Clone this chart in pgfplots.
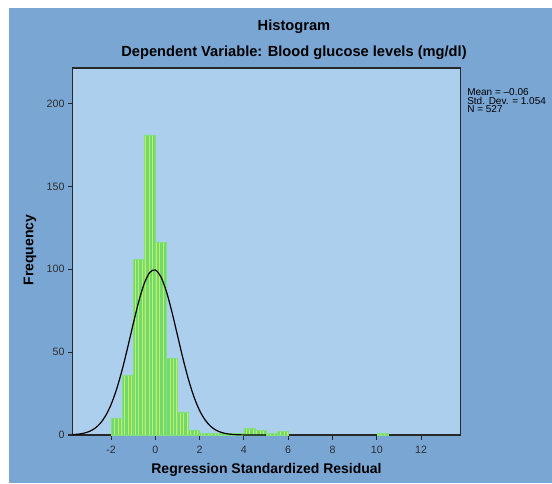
\documentclass[border=0pt]{standalone}
\usepackage{pgfplots}
\pgfplotsset{compat=1.18}
\usepackage{fontspec}
\setmainfont{Liberation Sans}
\usetikzlibrary{patterns.meta}
\definecolor{outerblue}{RGB}{122,166,212}
\definecolor{plotblue}{RGB}{171,207,237}
\definecolor{bargreen}{RGB}{110,218,112}
\definecolor{barstripe}{RGB}{200,238,95}
\definecolor{baredge}{RGB}{130,225,125}
\definecolor{axisgray}{RGB}{40,40,40}
\definecolor{ticktext}{RGB}{45,45,45}
\begin{document}
\begin{tikzpicture}[x=0.75pt,y=0.75pt]
\path[use as bounding box] (0,0) rectangle (552,483);
\fill[white] (0,0) rectangle (552,483);
\fill[outerblue] (9,0) rectangle (552,475);
\begin{axis}[
  at={(54.375pt,36pt)}, anchor=south west,
  scale only axis, width=291pt, height=275.25pt,
  xmin=-3.74, xmax=13.78, ymin=0, ymax=221.4,
  axis background/.style={fill=plotblue},
  axis line style={axisgray, line width=0.8pt},
  xtick={-2,0,2,4,6,8,10,12}, ytick={0,50,100,150,200},
  tick align=outside, xtick pos=bottom, ytick pos=left,
  major tick length=3.5pt,
  tick style={axisgray, line width=0.8pt},
  tick label style={font=\fontsize{8}{9}\selectfont, text=ticktext},
  /pgf/number format/assume math mode=true,
  xticklabel style={yshift=-1pt},
  yticklabel style={xshift=1pt},
  clip=true,
]
\addplot[ybar, bar width=0.5, bar shift=0pt, draw=baredge, line width=0.4pt,
  fill=bargreen, postaction={pattern={Lines[angle=90, distance=2.6pt, line width=0.5pt]}, pattern color=barstripe}]
  coordinates {(-1.75,10) (-1.25,36) (-0.75,106) (-0.25,181) (0.25,116) (0.75,46)
  (1.25,14) (1.75,3) (2.25,1) (2.75,1) (3.25,1) (3.75,1) (4.25,4) (4.75,3)
  (5.25,1) (5.75,2) (10.25,1)};
\addplot[smooth, black, line width=0.9pt] coordinates {
 (-3.75,0.217) (-3.5,0.485) (-3.25,1.023) (-3,2.038) (-2.75,3.839) (-2.5,6.838)
 (-2.25,11.51) (-2,18.32) (-1.75,27.57) (-1.5,39.21) (-1.25,52.71) (-1,66.99)
 (-0.75,80.47) (-0.5,91.38) (-0.25,98.09) (0,99.54) (0.25,95.48) (0.5,86.58)
 (0.75,74.21) (1,60.13) (1.25,46.05) (1.5,33.34) (1.75,22.82) (2,14.76)
 (2.25,9.03) (2.5,5.22) (2.75,2.85) (3,1.47) (3.25,0.72) (3.5,0.33)
 (3.75,0.145) (4,0.06) (4.5,0.005) (5,0)};
\end{axis}
\node[font=\bfseries\fontsize{11}{13}\selectfont] at (294,456) {Histogram};
\node[font=\bfseries\fontsize{11}{13}\selectfont] at (294,430) {Dependent Variable: Blood glucose levels (mg/dl)};
\node[font=\bfseries\fontsize{10.5}{12}\selectfont] at (266.5,13) {Regression Standardized Residual};
\node[font=\bfseries\fontsize{10.5}{12}\selectfont, rotate=90] at (30,233) {Frequency};
\node[font=\fontsize{7.5}{8}\selectfont, anchor=west, inner sep=0pt] at (467,391) {Mean = –0.06};
\node[font=\fontsize{7.5}{8}\selectfont, anchor=west, inner sep=0pt] at (467,382.5) {Std. Dev. = 1.054};
\node[font=\fontsize{7.5}{8}\selectfont, anchor=west, inner sep=0pt] at (467,374) {N = 527};
\end{tikzpicture}
\end{document}
